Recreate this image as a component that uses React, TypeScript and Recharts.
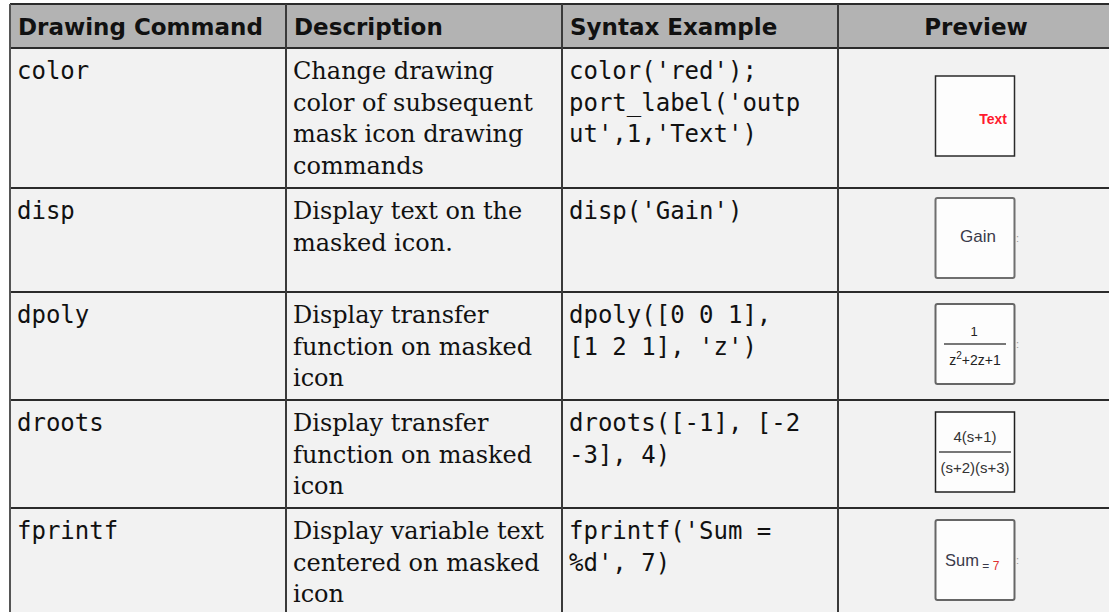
import { ComposedChart, ReferenceArea, ReferenceLine, Scatter, XAxis, YAxis } from 'recharts';

const headers = ['Drawing Command', 'Description', 'Syntax Example', 'Preview'];
const commands = ['color', 'disp', 'dpoly', 'droots', 'fprintf'];
const descriptions = [
  ['Change drawing', 'color of subsequent', 'mask icon drawing', 'commands'],
  ['Display text on the', 'masked icon.'],
  ['Display transfer', 'function on masked', 'icon'],
  ['Display transfer', 'function on masked', 'icon'],
  ['Display variable text', 'centered on masked', 'icon'],
];
const syntaxLines = [
  ["color('red');", "port_label('outp", "ut',1,'Text')"],
  ["disp('Gain')"],
  ['dpoly([0 0 1],', "[1 2 1], 'z')"],
  ['droots([-1], [-2', '-3], 4)'],
  ["fprintf('Sum =", "%d', 7)"],
];

// table grid (px)
const W = 1109;
const H = 612;
const colEdges = [10, 286, 562, 838, 1114];
const rowEdges = [4, 48, 188, 292, 400, 508, 616];

const MONO = "'DejaVu Sans Mono', monospace";
const SERIF = "'DejaVu Serif', serif";
const SANS = "'DejaVu Sans', sans-serif";
const ICON = "'Liberation Sans', Arial, sans-serif";

type TextCell = { x: number; y: number; lines: string[]; kind: 'head' | 'mono' | 'serif'; center?: boolean };

const textCells: TextCell[] = [];
headers.forEach((h, c) => {
  const center = c === 3;
  textCells.push({
    x: center ? (colEdges[c] + colEdges[c + 1]) / 2 : colEdges[c],
    y: rowEdges[0],
    lines: [h],
    kind: 'head',
    center,
  });
});
commands.forEach((cmd, r) => {
  const top = rowEdges[r + 1];
  textCells.push({ x: colEdges[0], y: top, lines: [cmd], kind: 'mono' });
  textCells.push({ x: colEdges[1], y: top, lines: descriptions[r], kind: 'serif' });
  textCells.push({ x: colEdges[2], y: top, lines: syntaxLines[r], kind: 'mono' });
});

const previewCells = commands.map((cmd, r) => ({
  x: (colEdges[3] + colEdges[4]) / 2 - 1,
  y: (rowEdges[r + 1] + rowEdges[r + 2]) / 2 - 2,
  kind: cmd,
}));

function CellText(props: any) {
  const { cx, cy, payload } = props;
  const p = payload as TextCell;
  const font =
    p.kind === 'head'
      ? { fontFamily: SANS, fontSize: 23, fontWeight: 700 }
      : p.kind === 'mono'
        ? { fontFamily: MONO, fontSize: 24, fontWeight: 400 }
        : { fontFamily: SERIF, fontSize: 24, fontWeight: 400 };
  const tx = p.center ? cx : cx + (p.kind === 'head' ? 8 : 7);
  return (
    <text
      x={tx}
      y={cy + 31}
      {...font}
      fill="#111"
      textAnchor={p.center ? 'middle' : 'start'}
      xmlSpace="preserve"
    >
      {p.lines.map((l, i) => (
        <tspan key={i} x={tx} dy={i === 0 ? 0 : 31.7}>
          {l}
        </tspan>
      ))}
    </text>
  );
}

const boxStyle: Record<string, { stroke: string; sw: number; rx: number }> = {
  color: { stroke: '#2a2a2a', sw: 1.5, rx: 0 },
  disp: { stroke: '#6f6f6f', sw: 2, rx: 2 },
  dpoly: { stroke: '#666', sw: 2, rx: 2 },
  droots: { stroke: '#1f1f1f', sw: 1.5, rx: 0 },
  fprintf: { stroke: '#666', sw: 2, rx: 2 },
};

function Port({ cx, cy }: { cx: number; cy: number }) {
  return (
    <text x={cx + 41} y={cy + 4} fontFamily={ICON} fontSize={11} fill="#999">
      :
    </text>
  );
}

function PreviewIcon(props: any) {
  const { cx, cy, payload } = props;
  const kind = payload.kind as string;
  const s = boxStyle[kind];
  let inner = null;
  if (kind === 'color') {
    inner = (
      <text x={cx + 32} y={cy + 8} textAnchor="end" fontFamily={ICON} fontSize={14} fontWeight={700} fill="#ff1a2e">
        Text
      </text>
    );
  } else if (kind === 'disp') {
    inner = (
      <>
        <text x={cx + 3} y={cy + 4} textAnchor="middle" fontFamily={ICON} fontSize={17} fill="#3a3a4a">
          Gain
        </text>
        <Port cx={cx} cy={cy} />
      </>
    );
  } else if (kind === 'dpoly') {
    inner = (
      <>
        <text x={cx - 1} y={cy - 8} textAnchor="middle" fontFamily={ICON} fontSize={13} fill="#222">
          1
        </text>
        <line x1={cx - 31} x2={cx + 31} y1={cy} y2={cy} stroke="#777" strokeWidth={2} />
        <text x={cx} y={cy + 21} textAnchor="middle" fontFamily={ICON} fontSize={14} fill="#222">
          z<tspan fontSize={10} dy={-6}>2</tspan>
          <tspan dy={6}>+2z+1</tspan>
        </text>
        <Port cx={cx} cy={cy} />
      </>
    );
  } else if (kind === 'droots') {
    inner = (
      <>
        <text x={cx} y={cy - 10} textAnchor="middle" fontFamily={ICON} fontSize={15} fill="#333">
          4(s+1)
        </text>
        <line x1={cx - 36} x2={cx + 36} y1={cy} y2={cy} stroke="#777" strokeWidth={2} />
        <text x={cx} y={cy + 21} textAnchor="middle" fontFamily={ICON} fontSize={15} fill="#333">
          (s+2)(s+3)
        </text>
      </>
    );
  } else if (kind === 'fprintf') {
    inner = (
      <>
        <text x={cx - 30} y={cy + 6} fontFamily={ICON} fontSize={16.5} fill="#3a3a4a">
          Sum
          <tspan fontSize={12} dy={4}> = </tspan>
          <tspan fontSize={12} fill="#e03030">7</tspan>
        </text>
        <Port cx={cx} cy={cy} />
      </>
    );
  }
  return (
    <g>
      <rect x={cx - 39.5} y={cy - 40} width={79} height={80} rx={s.rx} fill="#fdfdfd" stroke={s.stroke} strokeWidth={s.sw} />
      {inner}
    </g>
  );
}

export default function App() {
  return (
    <div style={{ position: 'absolute', left: 0, top: 0, width: W, height: H, background: '#fff' }}>
      <ComposedChart width={W} height={H} margin={{ top: 0, right: 0, bottom: 0, left: 0 }}>
        <XAxis type="number" dataKey="x" domain={[0, W]} hide allowDataOverflow />
        <YAxis type="number" dataKey="y" domain={[0, H]} reversed hide allowDataOverflow />
        <ReferenceArea
          x1={colEdges[0]}
          x2={colEdges[4]}
          y1={rowEdges[0]}
          y2={rowEdges[1]}
          fill="#b3b3b3"
          fillOpacity={1}
          ifOverflow="visible"
        />
        <ReferenceArea
          x1={colEdges[0]}
          x2={colEdges[4]}
          y1={rowEdges[1]}
          y2={rowEdges[6]}
          fill="#f2f2f2"
          fillOpacity={1}
          ifOverflow="visible"
        />
        {rowEdges.slice(0, 6).map((y) => (
          <ReferenceLine
            key={`r-${y}`}
            segment={[
              { x: colEdges[0], y },
              { x: colEdges[4], y },
            ]}
            stroke="#2b2b2b"
            strokeWidth={2}
            ifOverflow="visible"
          />
        ))}
        {colEdges.slice(0, 4).map((x, i) => (
          <ReferenceLine
            key={`c-${x}`}
            segment={[
              { x, y: rowEdges[0] },
              { x, y: rowEdges[6] },
            ]}
            stroke={i === 0 ? '#555' : '#3a3a3a'}
            strokeWidth={2}
            ifOverflow="visible"
          />
        ))}
        <Scatter data={textCells} shape={CellText} isAnimationActive={false} />
        <Scatter data={previewCells} shape={PreviewIcon} isAnimationActive={false} />
      </ComposedChart>
    </div>
  );
}
